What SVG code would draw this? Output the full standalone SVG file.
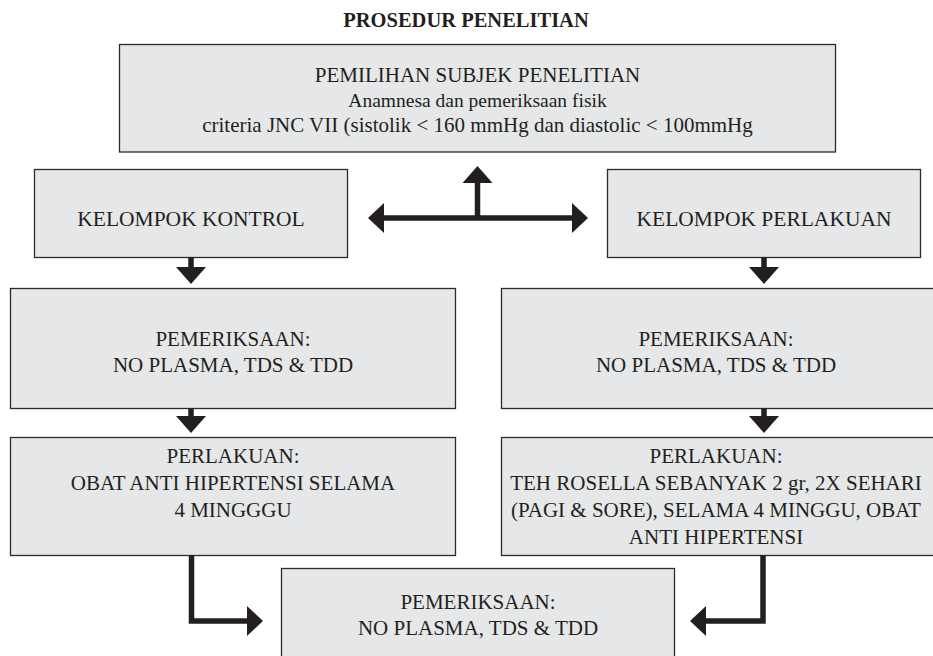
<svg xmlns="http://www.w3.org/2000/svg" width="933" height="656" viewBox="0 0 933 656">
<style>
.box{fill:#e6e7e8;stroke:#2b2b2b;stroke-width:1.3}
.t{font-family:"Liberation Serif","Times New Roman",serif;font-size:21px;fill:#231f20;text-anchor:middle}
.title{font-family:"Liberation Serif","Times New Roman",serif;font-size:20.5px;font-weight:bold;fill:#231f20;text-anchor:middle}
.sh{fill:none;stroke:#231f20;stroke-width:5.5}
.hd{fill:#231f20}
</style>
<rect width="933" height="656" fill="#ffffff"/>
<text class="title" x="466" y="27">PROSEDUR PENELITIAN</text>
<g id="n-seleksi">
<rect class="box" x="119.5" y="44.5" width="716" height="107.5"/>
<text class="t" x="477.5" y="82">PEMILIHAN SUBJEK PENELITIAN</text>
<text class="t" x="477.5" y="107" style="font-size:19.5px">Anamnesa dan pemeriksaan fisik</text>
<text class="t" x="477.5" y="132">criteria JNC VII (sistolik &lt; 160 mmHg dan diastolic &lt; 100mmHg</text>
</g>
<g id="n-kontrol">
<rect class="box" x="34.5" y="169.5" width="313" height="88"/>
<text class="t" x="191" y="226" style="font-size:21.5px">KELOMPOK KONTROL</text>
</g>
<g id="n-perlakuan">
<rect class="box" x="607.5" y="169.5" width="313" height="88"/>
<text class="t" x="764" y="226" style="font-size:21.5px">KELOMPOK PERLAKUAN</text>
</g>
<g id="n-periksa-kontrol">
<rect class="box" x="10.5" y="288.5" width="445" height="120"/>
<text class="t" x="233" y="346">PEMERIKSAAN:</text>
<text class="t" x="233" y="372">NO PLASMA, TDS &amp; TDD</text>
</g>
<g id="n-periksa-perlakuan">
<rect class="box" x="501.5" y="288.5" width="434" height="120"/>
<text class="t" x="716" y="346">PEMERIKSAAN:</text>
<text class="t" x="716" y="372">NO PLASMA, TDS &amp; TDD</text>
</g>
<g id="n-perlakuan-kontrol">
<rect class="box" x="10.5" y="437.5" width="445" height="118"/>
<text class="t" x="233" y="463">PERLAKUAN:</text>
<text class="t" x="233" y="490">OBAT ANTI HIPERTENSI SELAMA</text>
<text class="t" x="233" y="517">4 MINGGGU</text>
</g>
<g id="n-perlakuan-rosella">
<rect class="box" x="501.5" y="437.5" width="434" height="118"/>
<text class="t" x="716" y="463">PERLAKUAN:</text>
<text class="t" x="716" y="490">TEH ROSELLA SEBANYAK 2 gr, 2X SEHARI</text>
<text class="t" x="716" y="517">(PAGI &amp; SORE), SELAMA 4 MINGGU, OBAT</text>
<text class="t" x="716" y="544">ANTI HIPERTENSI</text>
</g>
<g id="n-periksa-akhir">
<rect class="box" x="281.5" y="568.5" width="393" height="100"/>
<text class="t" x="478" y="609">PEMERIKSAAN:</text>
<text class="t" x="478" y="635">NO PLASMA, TDS &amp; TDD</text>
</g>
<g id="connectors">
<path class="sh" d="M383 218H573M477.5 218V181"/>
<polygon class="hd" points="368,218 384,203 384,233"/>
<polygon class="hd" points="588,218 572,203 572,233"/>
<polygon class="hd" points="477.5,166 462.5,183 492.5,183"/>
<path class="sh" d="M191 257.5V268M764 257.5V268M191 408.5V418M764 408.5V418"/>
<polygon class="hd" points="191,284 176,267 206,267"/>
<polygon class="hd" points="764,284 749,267 779,267"/>
<polygon class="hd" points="191,433 176,416 206,416"/>
<polygon class="hd" points="764,433 749,416 779,416"/>
<path class="sh" d="M191.5 555.5V621H248M763 555.5V621H705"/>
<polygon class="hd" points="263,621 247,606 247,636"/>
<polygon class="hd" points="690,621 706,606 706,636"/>
</g>
</svg>
